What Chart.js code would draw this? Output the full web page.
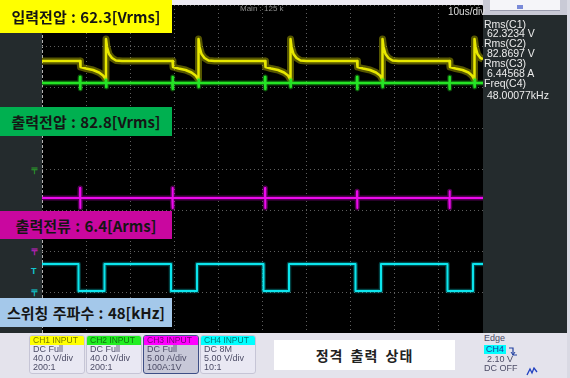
<!DOCTYPE html>
<html>
<head>
<meta charset="utf-8">
<script src="https://cdn.jsdelivr.net/npm/chart.js@4.4.0/dist/chart.umd.min.js"></script>
<style>
body { margin: 0; background: #e4e3ec; }
#scope { position: relative; width: 570px; height: 378px; overflow: hidden; background: #e4e3ec;
  font-family: "Liberation Sans", Arial, sans-serif; }
#scope div { position: absolute; }
#leftStrip { left: 0; top: 0; width: 42px; height: 333px; background: #242b2d; }
#topStrip { left: 42px; top: 0; width: 441px; height: 5px; background: #eceaf2; }
#plot { position: absolute; left: 42px; top: 5px; background: #000; }
#side { left: 483px; top: 0; width: 84px; height: 333px; background: #242b2d; }
#sideTop { left: 483px; top: 0; width: 84px; height: 15px; background: #c9cad6; }
#sideTopIn { left: 490px; top: 0; width: 70px; height: 10px; background: #f5f5f9; border-bottom: 1px solid #9a9cae; }
#sideMark { left: 517px; top: 5px; width: 6px; height: 4px; background: #7a8ad8; }
#rightEdge { left: 567px; top: 0; width: 3px; height: 378px; background: #d9d9e3; }
.tag { left: 0; width: 172px; display: flex; align-items: center; justify-content: center;
  font: bold 15px "Noto Sans CJK KR", sans-serif; color: #151515; word-spacing: 1px; }
#tag1 { top: 0; height: 33px; background: #ffff00; }
#tag2 { top: 107px; height: 29px; background: #00b050; }
#tag3 { top: 211px; height: 28px; background: #c9079f; }
#tag4 { top: 298px; height: 29px; background: #a4c8ea; }
.meas { left: 484px; font-size: 10.5px; line-height: 12px; color: #ececec; white-space: nowrap; }
.val { left: 487px; }
.mark { left: 31px; font-size: 9px; line-height: 9px; font-weight: bold; }
.ch { top: 335px; height: 37px; border: 1px solid #c6c5d6; border-radius: 3px; background: #e9e8f3;
  font-size: 9px; line-height: 9px; color: #4c4c66; overflow: hidden; }
.ch span { display: block; padding-left: 3px; height: 9px; white-space: nowrap; }
.ch .hd { font-size: 8.5px; color: rgba(0,0,0,0.55); }
#state { left: 274px; top: 340px; width: 181px; height: 30px; background: #fff; display: flex;
  align-items: center; justify-content: center; font: 600 14px "Noto Sans CJK KR", sans-serif; color: #222;
  letter-spacing: 1px; word-spacing: 3px; }
.trig { left: 484px; font-size: 9px; line-height: 9px; color: #4c4c66; white-space: nowrap; }
</style>
</head>
<body>
<div id="scope">
  <div id="leftStrip"></div>
  <div id="topStrip"></div>
  <div id="side"></div>
  <div id="sideTop"></div>
  <div id="sideTopIn"></div>
  <div id="sideMark"></div>
  <div id="rightEdge"></div>
  <canvas id="plot" width="441" height="328"></canvas>

  <div style="left:240px;top:4px;font-size:8px;line-height:9px;color:#8c8c8c;">Main : 125 k</div>
  <div style="left:448px;top:6px;font-size:10px;line-height:12px;color:#dcdcdc;">10us/div</div>

  <div class="tag" id="tag1">입력전압 : 62.3[Vrms]</div>
  <div class="tag" id="tag2">출력전압 : 82.8[Vrms]</div>
  <div class="tag" id="tag3">출력전류 : 6.4[Arms]</div>
  <div class="tag" id="tag4">스위칭 주파수 : 48[kHz]</div>

  <div class="mark" style="top:167px;color:#2a9a2a;">〒</div>
  <div class="mark" style="top:248px;color:#c020c0;">〒</div>
  <div class="mark" style="top:267px;color:#10c8d0;">T</div>
  <div class="mark" style="top:289px;color:#10c8d0;">〒</div>

  <div class="meas" style="top:18px;">Rms(C1)</div>
  <div class="meas val" style="top:27px;">62.3234 V</div>
  <div class="meas" style="top:37px;">Rms(C2)</div>
  <div class="meas val" style="top:47px;">82.8697 V</div>
  <div class="meas" style="top:57px;">Rms(C3)</div>
  <div class="meas val" style="top:67px;">6.44568 A</div>
  <div class="meas" style="top:77px;">Freq(C4)</div>
  <div class="meas val" style="top:89px;">48.00077kHz</div>

  <div class="ch" style="left:29px;width:54px;"><span class="hd" style="background:#ffff00;">CH1 INPUT</span><span>DC Full</span><span>40.0 V/div</span><span>200:1</span></div>
  <div class="ch" style="left:86px;width:54px;"><span class="hd" style="background:#22ee22;">CH2 INPUT</span><span>DC Full</span><span>40.0 V/div</span><span>200:1</span></div>
  <div class="ch" style="left:143px;width:54px;background:#c7c8d8;border-color:#3e4f86;"><span class="hd" style="background:#ff00ff;">CH3 INPUT</span><span>DC Full</span><span>5.00 A/div</span><span>100A:1V</span></div>
  <div class="ch" style="left:200px;width:54px;"><span class="hd" style="background:#00ffff;">CH4 INPUT</span><span>DC 8M</span><span>5.00 V/div</span><span>10:1</span></div>

  <div id="state">정격 출력 상태</div>

  <div class="trig" style="top:334px;">Edge</div>
  <div class="trig" style="top:345px;background:#00ffff;color:#2040a0;padding:0 2px;">CH4</div>
  <div style="left:508px;top:343px;">
    <svg width="10" height="11"><polyline points="1,2 5,2 5,9 9,9" fill="none" stroke="#2040a0" stroke-width="1.2"/><polyline points="3,6 5,9 7,6" fill="none" stroke="#2040a0" stroke-width="1"/></svg>
  </div>
  <div class="trig" style="top:355px;left:487px;">2.10 V</div>
  <div class="trig" style="top:364px;">DC OFF</div>
  <div style="left:526px;top:362px;">
    <svg width="12" height="9"><polyline points="1,8 4,2 6,6 8,1 11,5" fill="none" stroke="#2040c0" stroke-width="1.3"/></svg>
  </div>
</div>

<script>
// time in us (10 us/div), level in divisions (8 div tall)
const ch1Trace = [
  [0, 2.634], [8.62, 2.634],
  [8.73, 2.488], [9.98, 2.451], [11.57, 2.415], [12.93, 2.354], [13.84, 2.280], [14.41, 2.195],
  [14.51, 3.171], [14.74, 2.976], [15.19, 2.805], [15.87, 2.707], [16.78, 2.646], [18.14, 2.634],
  [29.59, 2.634],
  [29.70, 2.488], [30.95, 2.451], [32.54, 2.415], [33.90, 2.354], [34.81, 2.280], [35.39, 2.195],
  [35.49, 3.171], [35.72, 2.976], [36.17, 2.805], [36.85, 2.707], [37.76, 2.646], [39.12, 2.634],
  [50.57, 2.634],
  [50.68, 2.488], [51.93, 2.451], [53.52, 2.415], [54.88, 2.354], [55.79, 2.280], [56.25, 2.195],
  [56.35, 3.171], [56.58, 2.976], [57.03, 2.805], [57.71, 2.707], [58.62, 2.646], [59.98, 2.634],
  [71.43, 2.634],
  [71.54, 2.488], [72.79, 2.451], [74.38, 2.415], [75.74, 2.354], [76.65, 2.280], [77.11, 2.195],
  [77.21, 3.171], [77.44, 2.976], [77.89, 2.805], [78.57, 2.707], [79.48, 2.646], [80.84, 2.634],
  [92.40, 2.634],
  [92.51, 2.488], [93.76, 2.451], [95.35, 2.415], [96.71, 2.354], [97.50, 2.280], [97.97, 2.195],
  [98.07, 3.171], [98.30, 2.976], [98.75, 2.805], [99.43, 2.707], [100, 2.680]
];

const ch2Trace = [
  [0, 2.098],
  [8.57, 2.098], [8.62, 2.244], [8.67, 1.951], [8.72, 2.098],
  [14.46, 2.098], [14.51, 2.171], [14.56, 2.000], [14.61, 2.098],
  [29.54, 2.098], [29.59, 2.244], [29.64, 1.951], [29.69, 2.098],
  [35.44, 2.098], [35.49, 2.171], [35.54, 2.000], [35.59, 2.098],
  [50.52, 2.098], [50.57, 2.244], [50.62, 1.951], [50.67, 2.098],
  [56.30, 2.098], [56.35, 2.171], [56.40, 2.000], [56.45, 2.098],
  [71.38, 2.098], [71.43, 2.244], [71.48, 1.951], [71.53, 2.098],
  [77.16, 2.098], [77.21, 2.171], [77.26, 2.000], [77.31, 2.098],
  [92.35, 2.098], [92.40, 2.244], [92.45, 1.951], [92.50, 2.098],
  [98.02, 2.098], [98.07, 2.171], [98.12, 2.000], [98.17, 2.098],
  [100, 2.098]
];

const ch3Trace = [
  [0, -0.707],
  [8.57, -0.707], [8.62, -0.463], [8.67, -0.951], [8.72, -0.707],
  [29.54, -0.707], [29.59, -0.463], [29.64, -0.951], [29.69, -0.707],
  [50.52, -0.707], [50.57, -0.463], [50.62, -0.951], [50.67, -0.707],
  [71.38, -0.707], [71.43, -0.540], [71.48, -0.951], [71.53, -0.707],
  [92.35, -0.707], [92.40, -0.540], [92.45, -0.951], [92.50, -0.707],
  [100, -0.707]
];

const ch4Trace = [
  [0, -2.317], [8.28, -2.317], [8.28, -2.976], [14.17, -2.976],
  [14.17, -2.317], [29.25, -2.317], [29.25, -2.976], [35.15, -2.976],
  [35.15, -2.317], [50.23, -2.317], [50.23, -2.976], [56.01, -2.976],
  [56.01, -2.317], [71.09, -2.317], [71.09, -2.976], [76.87, -2.976],
  [76.87, -2.317], [91.95, -2.317], [91.95, -2.976], [97.73, -2.976],
  [97.73, -2.317], [100, -2.317]
];

function pts(trace) {
  return trace.map(p => ({ x: p[0], y: p[1] }));
}

const data = {
  datasets: [
    { label: 'CH4', data: pts(ch4Trace), borderColor: 'rgba(0,230,235,0.3)', borderWidth: 4.5 },
    { label: 'CH4', data: pts(ch4Trace), borderColor: '#12e6ee', borderWidth: 2 },
    { label: 'CH3', data: pts(ch3Trace), borderColor: 'rgba(230,0,230,0.35)', borderWidth: 5 },
    { label: 'CH3', data: pts(ch3Trace), borderColor: '#f010f0', borderWidth: 2 },
    { label: 'CH2', data: pts(ch2Trace), borderColor: 'rgba(30,220,30,0.35)', borderWidth: 5 },
    { label: 'CH2', data: pts(ch2Trace), borderColor: '#2ae82a', borderWidth: 2.5 },
    { label: 'CH1', data: pts(ch1Trace), borderColor: 'rgba(215,215,0,0.4)', borderWidth: 7 },
    { label: 'CH1', data: pts(ch1Trace), borderColor: '#f4f400', borderWidth: 2.5 }
  ]
};

const config = {
  type: 'line',
  data: data,
  options: {
    responsive: false,
    animation: false,
    events: [],
    layout: { padding: 0 },
    elements: {
      point: { radius: 0 },
      line: { tension: 0, borderJoinStyle: 'round' }
    },
    plugins: {
      legend: { display: false },
      tooltip: { enabled: false }
    },
    scales: {
      x: {
        type: 'linear',
        min: 0,
        max: 100,
        ticks: { display: false, stepSize: 10 },
        grid: {
          drawTicks: false,
          color: ctx => ctx.index === 0 ? '#b4b4b4' : '#5e5e5e'
        },
        border: { display: false, dash: ctx => ctx.index === 0 ? [3, 2] : [1, 3] }
      },
      y: {
        type: 'linear',
        min: -4,
        max: 4,
        ticks: { display: false, stepSize: 1 },
        grid: { drawTicks: false, color: '#5e5e5e' },
        border: { display: false, dash: [1, 3] }
      }
    }
  }
};

const myChart = new Chart(document.getElementById('plot'), config);
</script>
</body>
</html>
